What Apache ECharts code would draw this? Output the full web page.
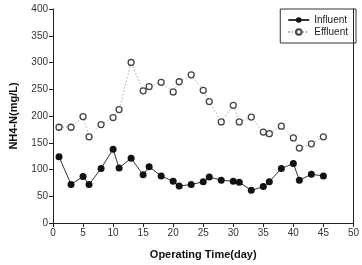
<!DOCTYPE html>
<html>
<head>
	<meta charset="utf-8"/>
	<title>NH4-N</title>
	<style>
		* { margin: 0; padding: 0; }
		html, body { width: 362px; height: 265px; background: #fff; }
		#main { width: 362px; height: 265px; }
	</style>
</head>
<body>
	<div id="main"></div>
	<script src="https://cdn.jsdelivr.net/npm/echarts@6/dist/echarts.min.js"></script>
	<script>
		var days = [1, 3, 5, 6, 8, 10, 11, 13, 15, 16, 18, 20, 21, 23, 25, 26, 28, 30, 31, 33, 35, 36, 38, 40, 41, 43, 45];
		var influent = [124, 72, 87, 72, 102, 138, 103, 121, 90, 105, 88, 78, 69, 72, 77, 86, 80, 78, 76, 61, 68, 77, 102, 111, 80, 91, 88];
		var effluent = [179, 179, 199, 161, 184, 197, 212, 300, 247, 255, 263, 245, 264, 277, 248, 227, 189, 220, 189, 198, 170, 167, 181, 159, 140, 148, 161];

		function pairs(xs, ys) {
			return xs.map(function (x, i) { return [x, ys[i]]; });
		}

		var font = 'Liberation Sans';
		var chart = echarts.init(document.getElementById('main'));
		chart.setOption({
			animation: false,
			grid: { left: 43, right: 6, top: 9, bottom: 34 },
			legend: {
				orient: 'vertical',
				right: 6,
				top: 9,
				itemGap: 2,
				itemWidth: 21,
				itemHeight: 7,
				padding: [6, 8, 6, 7],
				borderColor: '#333',
				borderWidth: 1,
				textStyle: { fontFamily: font, fontSize: 10, color: '#222' },
				data: ['Influent', 'Effluent']
			},
			xAxis: {
				type: 'value',
				min: 0, max: 50, interval: 5,
				name: 'Operating Time(day)',
				nameLocation: 'middle',
				nameGap: 26,
				nameTextStyle: { fontFamily: font, fontSize: 11, fontWeight: 'bold', color: '#111' },
				axisLine: { lineStyle: { color: '#222' } },
				axisTick: { length: 4, lineStyle: { color: '#222' } },
				axisLabel: { fontFamily: font, fontSize: 10, color: '#333', margin: 5 },
				splitLine: { show: false }
			},
			yAxis: [{
				type: 'value',
				min: 0, max: 400, interval: 50,
				name: 'NH4-N(mg/L)',
				nameLocation: 'middle',
				nameGap: 34,
				nameTextStyle: { fontFamily: font, fontSize: 11, fontWeight: 'bold', color: '#111' },
				axisLine: { show: true, lineStyle: { color: '#222' } },
				axisTick: { show: true, length: 4, lineStyle: { color: '#222' } },
				axisLabel: { fontFamily: font, fontSize: 10, color: '#333', margin: 5 },
				splitLine: { show: false }
			}, {
				type: 'value',
				position: 'right',
				min: 0, max: 400,
				axisLine: { show: true, lineStyle: { color: '#222' } },
				axisTick: { show: false },
				axisLabel: { show: false },
				splitLine: { show: false }
			}],
			series: [{
				name: 'Influent',
				type: 'line',
				data: pairs(days, influent),
				symbol: 'circle',
				symbolSize: 7,
				itemStyle: { color: '#111' },
				lineStyle: { color: '#333', width: 1 }
			}, {
				name: 'Effluent',
				type: 'line',
				data: pairs(days, effluent),
				symbol: 'circle',
				symbolSize: 6,
				itemStyle: { color: '#fff', borderColor: '#444', borderWidth: 1.3 },
				lineStyle: { color: '#aaa', width: 1, type: [1.5, 2] }
			}]
		});
	</script>
</body>
</html>
